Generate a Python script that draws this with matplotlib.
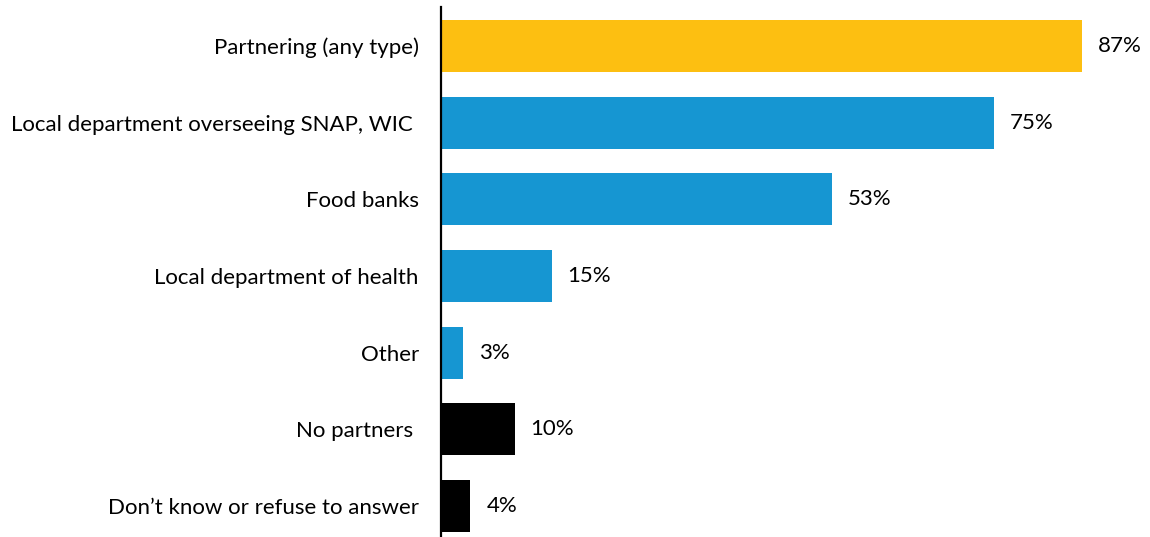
import matplotlib.pyplot as plt

plt.rcParams['font.family'] = ['Lato', 'DejaVu Sans']

categories = [
    "Partnering (any type)",
    "Local department overseeing SNAP, WIC ",
    "Food banks",
    "Local department of health",
    "Other",
    "No partners ",
    "Don\u2019t know or refuse to answer",
]
values = [87, 75, 53, 15, 3, 10, 4]
bar_colors = ["#fdbf11", "#1696d2", "#1696d2", "#1696d2", "#1696d2", "#000000", "#000000"]

fig = plt.figure(figsize=(11.5, 5.37), dpi=100)
ax = fig.add_axes([441 / 1150, 0, 1 - 441 / 1150, 1 - 7 / 537])

ypos = list(range(len(categories)))
ax.barh(ypos, values, height=0.68, color=bar_colors)

# value labels just past the end of each bar
for y, v in zip(ypos, values):
    ax.annotate(f"{v}%", (v, y), xytext=(11.5, 0), textcoords="offset points",
                va="center", ha="left", fontsize=16, color="#000000")

ax.set_yticks(ypos)
ax.set_yticklabels(categories, fontsize=16)
ax.tick_params(axis="y", length=0, pad=16)
ax.set_xticks([])
ax.set_xlim(0, 96.2)
ax.set_ylim(6.404, -0.508)

for s in ["top", "right", "bottom"]:
    ax.spines[s].set_visible(False)
ax.spines["left"].set_linewidth(1.6)
ax.spines["left"].set_color("#000000")

fig.savefig("out.png", dpi=100)
